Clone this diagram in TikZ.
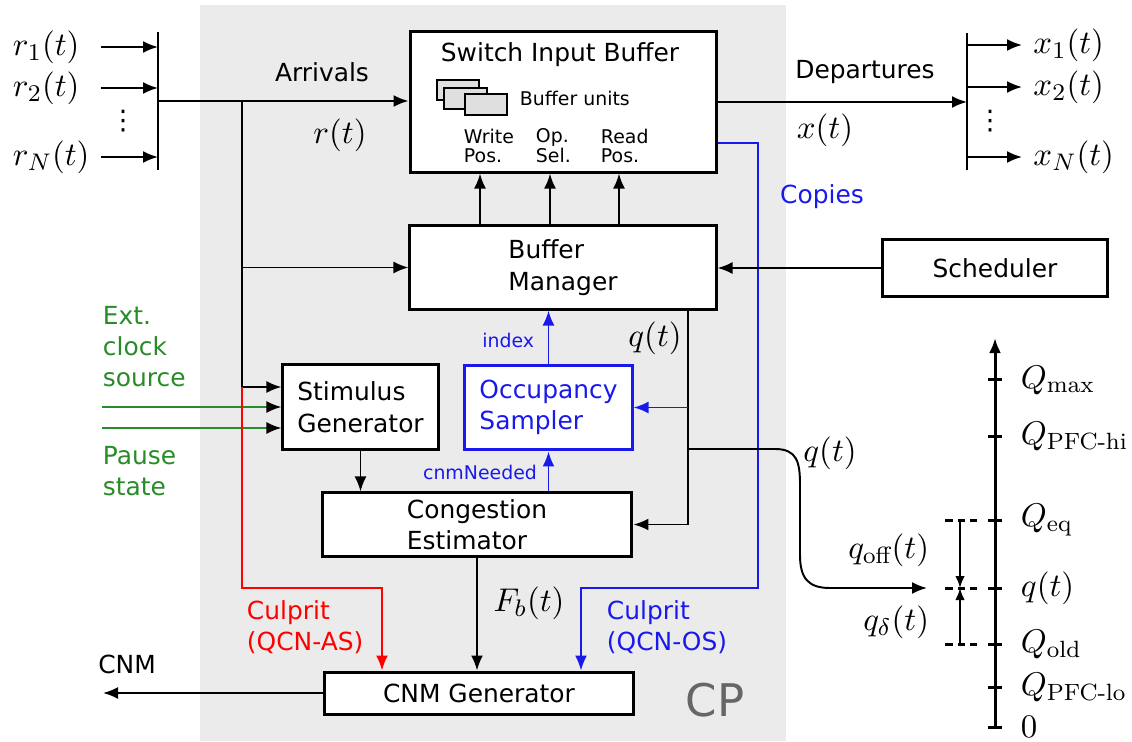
\documentclass[tikz,border=0pt]{standalone}
\usepackage{amsmath}
\usepackage{fontspec}
\setsansfont{DejaVu Sans}
\newfontfamily\dotsfont{DejaVu Sans}
\usetikzlibrary{arrows.meta}
\definecolor{cpgray}{HTML}{EBEBEB}
\definecolor{clkgreen}{RGB}{40,140,40}
\definecolor{cpblue}{RGB}{25,25,235}

\begin{document}
\begin{tikzpicture}[x=0.3333pt, y=-0.3333pt, >={Latex[length=5pt,width=4pt]}, line width=0.65pt,
    block/.style={draw, line width=1pt, fill=white, inner sep=0pt, align=left,
      font=\sffamily\fontsize{8.3}{10.5}\selectfont},
    txt/.style={inner sep=0pt, align=left, font=\sffamily\fontsize{8.3}{10.3}\selectfont},
    smalltxt/.style={inner sep=0pt, align=left, font=\sffamily\fontsize{6.3}{6.6}\selectfont},
    mth/.style={inner sep=0pt, font=\fontsize{11.2}{13}\selectfont},
    vdotstxt/.style={inner sep=0pt, font=\dotsfont\fontsize{9}{9}\selectfont},
    bufunit/.style={draw, fill=gray!25, line width=0.6pt},
    gline/.style={clkgreen, -{Latex[length=5pt,width=4pt,black]}}]
    \useasboundingbox (0,0) rectangle (1132,742);

    % CP region
    \fill[cpgray] (200,5) rectangle (786,741);
    \node[inner sep=0pt, text=black!60, font=\sffamily\fontsize{15}{15}\selectfont] (cp) at (715,700) {CP};

    % blocks
    \node[block, minimum width=102.3pt, minimum height=46.7pt] (sib) at (563.5,102) {};
    \node[txt] (sibtitle) at (560,55) {Switch Input Buffer};
    \draw[bufunit] (437,80) rectangle (479,100);
    \draw[bufunit] (444,88) rectangle (487,109);
    \draw[bufunit] (465,94) rectangle (507,115);
    \node[smalltxt, anchor=west] (units) at (519,98) {Buffer units};
    \node[smalltxt, anchor=west] (wpos) at (463,146) {Write\\Pos.};
    \node[smalltxt, anchor=west] (osel) at (535,146) {Op.\\Sel.};
    \node[smalltxt, anchor=west] (rpos) at (600,146) {Read\\Pos.};

    \node[block, minimum width=102pt, minimum height=27.7pt] (bm) at (563,267.5) {Buffer\\Manager};
    \node[block, minimum width=74.7pt, minimum height=18.7pt] (sched) at (995,268) {Scheduler};
    \node[block, minimum width=51.7pt, minimum height=28pt] (stim) at (360.5,407) {Stimulus\\Generator};
    \node[block, draw=cpblue, text=cpblue, minimum width=55.7pt, minimum height=28.3pt] (occ) at (548.5,407.5) {Occupancy\\Sampler};
    \node[block, minimum width=103.3pt, minimum height=21pt] (cong) at (477,524.5) {Congestion\\Estimator};
    \node[block, minimum width=102.7pt, minimum height=14pt] (cnmg) at (479,693) {CNM Generator};

    % inputs
    \coordinate (inTop) at (158,32);
    \coordinate (inBot) at (158,170);
    \draw (inTop) -- (inBot);
    \foreach \i/\yy/\lab in {1/47/r_1(t), 2/88/r_2(t), N/157/r_N(t)} {
      \coordinate (rs\i) at (101,\yy);
      \node[mth, anchor=west] (r\i) at (12,\yy) {$\lab$};
      \draw[->] (rs\i) -- (rs\i -| inTop);
    }
    \node[vdotstxt] (rdots) at (123,121) {⋮};

    % arrivals
    \coordinate (inMid) at (158,101);
    \coordinate (split) at (242,101);
    \coordinate (tap) at (242,387);
    \draw[->] (inMid) -- (inMid -| sib.west);
    \node[txt] (arrl) at (322,72) {Arrivals};
    \node[mth] (rt) at (340,135) {$r(t)$};
    \draw (split) -- (tap);
    \draw[->] (tap) -- (tap -| stim.west);
    \draw[->] (split |- bm.west) -- (bm.west);

    % clock and pause
    \coordinate (clk) at (102,407);
    \coordinate (pause) at (102,428);
    \draw[gline] (clk) -- (clk -| stim.west);
    \draw[gline] (pause) -- (pause -| stim.west);
    \node[txt, text=clkgreen, anchor=west] (ext) at (102,347) {Ext.\\clock\\source};
    \node[txt, text=clkgreen, anchor=west] (pst) at (102,471) {Pause\\state};

    % culprit paths
    \coordinate (asTurn) at (382,588);
    \draw[red, ->] (tap) |- (asTurn) -- (asTurn |- cnmg.north);
    \node[txt, text=red, anchor=west] (asl) at (246,627) {Culprit\\(QCN-AS)};
    \coordinate (cpTurn) at (758,588);
    \coordinate (osTurn) at (581,588);
    \draw[cpblue, line width=0.55pt, ->] ([yshift=-13.67pt]sib.east) -| (cpTurn) -- (osTurn) -- (osTurn |- cnmg.north);
    \node[txt, text=cpblue] (copies) at (822,197) {Copies};
    \node[txt, text=cpblue, anchor=west] (osl) at (606,627) {Culprit\\(QCN-OS)};

    % manager to buffer
    \foreach \xx in {480,550,619}
      \draw[->] (\xx,0 |- bm.north) -- (\xx,0 |- sib.south);
    \draw[->] (sched.west) -- (sched.west -| bm.east);

    % sampler
    \draw[cpblue, ->] (occ.north) -- (occ.north |- bm.south);
    \node[smalltxt, text=cpblue, anchor=east] (idx) at (535,340) {index};
    \draw[cpblue, ->] (occ.south |- cong.north) -- (occ.south);
    \node[smalltxt, text=cpblue] (cnmn) at (480,472) {cnmNeeded};

    \draw[->] (stim.south) -- (stim.south |- cong.north);
    \draw[->] (cong.south) -- (cong.south |- cnmg.north);
    \node[mth] (fb) at (529,603) {$F_b(t)$};

    % queue length
    \coordinate (qTop) at (688,0 |- bm.south);
    \coordinate (qOut) at (688,449);
    \coordinate (qAx) at (927,588);
    \draw[->] (qTop) |- (cong.east);
    \draw[cpblue, ->] (qTop |- occ.east) -- (occ.east);
    \node[mth] (qt1) at (655,338) {$q(t)$};
    \draw[->] (qOut) -- (775,449) .. controls (797,449) and (800,462) .. (800,485)
      -- (800,555) .. controls (800,578) and (808,588) .. (830,588) -- (qAx);
    \node[mth] (qt2) at (830,453) {$q(t)$};

    % CNM out
    \coordinate (cnmOut) at (103,693);
    \draw[->] (cnmg.west) -- (cnmOut);
    \node[txt] (cnml) at (127,664) {CNM};

    % outputs
    \coordinate (outTop) at (967,33);
    \coordinate (outBot) at (967,170);
    \draw (outTop) -- (outBot);
    \draw[->] (sib.east) -- (sib.east -| outTop);
    \foreach \i/\yy/\lab in {1/45/x_1(t), 2/87/x_2(t), N/157/x_N(t)} {
      \coordinate (xs\i) at (967,\yy);
      \node[mth, anchor=west, inner sep=3.5pt] (x\i) at (1022,\yy) {$\lab$};
      \draw[->] (xs\i) -- (x\i.west);
    }
    \node[vdotstxt] (xdots) at (990,121) {⋮};
    \node[txt] (dep) at (865,72) {Departures};
    \node[mth] (xt) at (825,130) {$x(t)$};

    % queue axis
    \coordinate (axBot) at (995,727);
    \coordinate (axTop) at (995,338);
    \draw[->, line width=1pt] (axBot) -- (axTop);
    \foreach \yy/\lab [count=\k] in {727/0, 687/{Q_{\text{PFC-lo}}}, 644/{Q_{\text{old}}}, 588/q(t),
        520/{Q_{\text{eq}}}, 436/{Q_{\text{PFC-hi}}}, 380/{Q_{\max}}} {
      \draw[line width=1pt] (988,\yy) -- (1002,\yy);
      \node[mth, anchor=west] (tick\k) at (1020,\yy) {$\lab$};
    }
    \coordinate (eqPt) at (960,520);
    \coordinate (qPt) at (960,588);
    \coordinate (oldPt) at (960,644);
    \foreach \yy in {520,588,644}
      \draw[line width=1pt, dash pattern=on 2.5pt off 1.7pt] (945,\yy) -- (977,\yy);
    \draw[-{Latex[length=4pt,width=3.2pt]}] (eqPt) -- (qPt);
    \draw[-{Latex[length=4pt,width=3.2pt]}] (oldPt) -- (qPt);
    \node[mth, anchor=east] (qoff) at (930,550) {$q_{\text{off}}(t)$};
    \node[mth, anchor=east] (qdel) at (930,622) {$q_\delta(t)$};
\end{tikzpicture}
\end{document}
